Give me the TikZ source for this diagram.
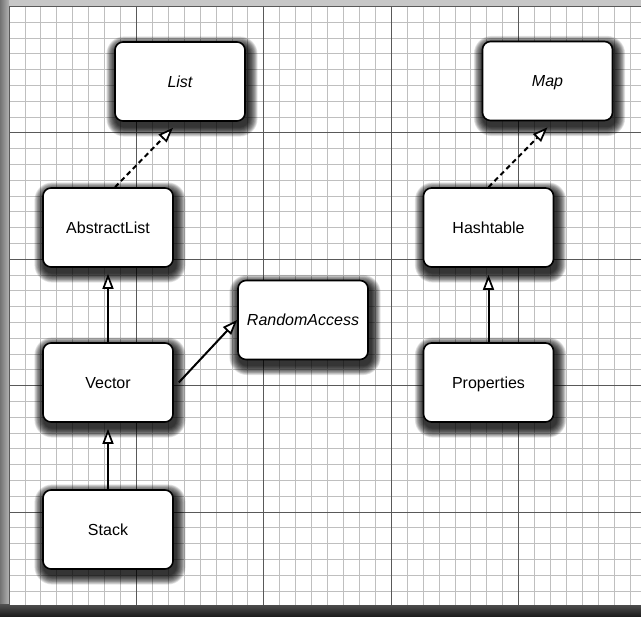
\documentclass[tikz,border=0pt]{standalone}
\usepackage{fontspec}
\setmainfont{Liberation Sans}
\usetikzlibrary{arrows.meta}
\pgfdeclarelayer{gridlayer}
\pgfdeclarelayer{shadowlayer}
\pgfsetlayers{gridlayer,shadowlayer,main}
\begin{document}
\begin{tikzpicture}[x=1pt,y=1pt,
  cls/.style={draw=black, line width=1.6pt, fill=white, rounded corners=8pt,
    minimum width=130pt, minimum height=79pt, inner sep=0pt,
    text height=11.5pt, text depth=0pt,
    font=\fontsize{16}{19}\selectfont},
  iface/.style={cls, font=\fontsize{16}{19}\selectfont\itshape},
  inh/.style={line width=2pt, -{Triangle[length=15pt,width=11pt,fill=white,line width=1.7pt]}},
  impl/.style={inh, dash pattern=on 5pt off 3.5pt},
  minorline/.style={draw=black!25, line width=0.8pt},
  majorline/.style={draw=black!65, line width=1pt}]

\useasboundingbox (0,0) rectangle (641,617);

% nodes
\node[iface] (List) at (180,535.5) {List};
\node[iface] (Map)  at (547.5,536) {Map};
\node[cls]   (AL)   at (108,389.5) {AbstractList};
\node[cls]   (HT)   at (488.5,389.5) {Hashtable};
\node[iface] (RA)   at (303,297) {RandomAccess};
\node[cls]   (Vec)  at (108,234.5) {Vector};
\node[cls]   (Prop) at (488.5,234.5) {Properties};
\node[cls]   (Stk)  at (108,87.5) {Stack};

% connectors
\draw[impl] ([xshift=7pt]AL.north) -- ([xshift=-7pt,yshift=-6pt]List.south);
\draw[impl] (HT.north) -- ([yshift=-6pt]Map.south);
\draw[inh] (Vec.north) -- ([yshift=-6pt]AL.south);
\draw[inh] (Stk.north) -- ([yshift=-6pt]Vec.south);
\draw[inh] (Prop.north) -- ([yshift=-7pt]HT.south);
\draw[inh] ([xshift=5pt]Vec.east) -- (RA.west);

% shadows
\begin{pgfonlayer}{shadowlayer}
\foreach \n in {List,Map,AL,HT,RA,Vec,Prop,Stk}{
  \foreach \i [evaluate=\i as \r using 8+0.7*\i, evaluate=\i as \d using 0.7*\i] in {1,...,14}{
    \fill[black, opacity=0.1, rounded corners=\r pt]
      ([shift={(2-\d,-5-\d)}]\n.south west) rectangle ([shift={(2+\d,-5+\d)}]\n.north east);
  }
}
\end{pgfonlayer}

% paper and grid
\begin{pgfonlayer}{gridlayer}
\fill[black!22] (0,0) rectangle (641,617);
\shade[left color=black!55, right color=black!30] (0,0) rectangle (9,617);
\shade[top color=black!70, bottom color=black!90] (0,0) rectangle (641,12);
\fill[white] (9,12) rectangle (641,610.5);
\foreach \k in {1,...,39}{
  \draw[minorline] ({9+\k*15.925},12) -- ({9+\k*15.925},610.5);
}
\foreach \j in {1,...,37}{
  \draw[minorline] (9,{610.5-\j*15.8}) -- (641,{610.5-\j*15.8});
}
\foreach \k in {0,...,4}{
  \draw[majorline] ({9+\k*127.4},12) -- ({9+\k*127.4},610.5);
}
\foreach \j in {0,...,4}{
  \draw[majorline] (9,{610.5-\j*126.4}) -- (641,{610.5-\j*126.4});
}
\end{pgfonlayer}
\end{tikzpicture}
\end{document}
